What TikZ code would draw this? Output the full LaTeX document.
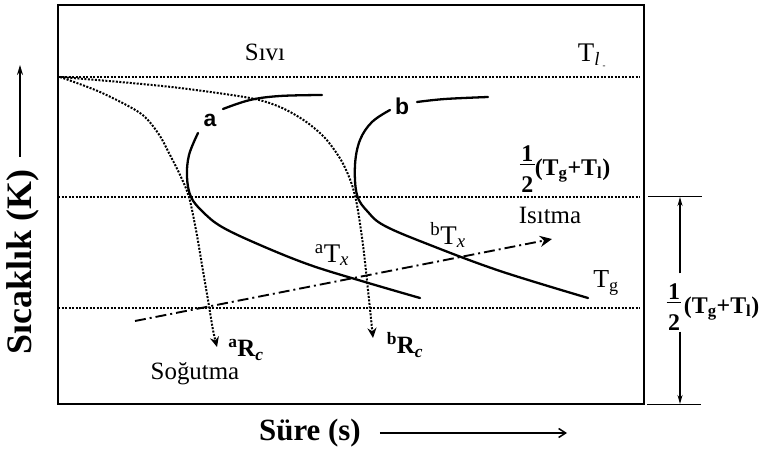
\documentclass[tikz,border=0pt]{standalone}
\usepackage{fontspec}
\setmainfont{Liberation Serif}
\setsansfont{Liberation Sans}
\usetikzlibrary{arrows.meta, positioning, calc}

% bold one half, stacked
\newcommand\halfstack{$\vcenter{\hbox{\vbox{\halign{\hfil##\hfil\cr
  \kern1.5bp 1\kern1.5bp\cr\noalign{\kern3bp\hrule height 1bp\kern11bp}2\cr}}}}$}

\begin{document}
\begin{tikzpicture}[
  x=1bp, y=-1bp,
  font=\fontsize{25}{28}\selectfont,
  framebox/.style ={draw, line width=1.8pt},
  hline/.style    ={line width=2bp, dash pattern=on 2bp off 1.5bp},
  route/.style    ={hline, -{Stealth[length=10bp, width=9bp]}},
  ttt/.style      ={line width=2.3pt, line cap=round},
  heat/.style     ={line width=1.9pt, dash pattern=on 11pt off 4pt on 2pt off 4pt,
                    -{Stealth[length=12bp, width=11bp]}},
  spanarrow/.style={line width=1.3pt, -{Stealth[length=9bp, width=5bp]}},
  axisarrow/.style={line width=1.5pt, -{Straight Barb[length=7bp, width=9bp]}},
  tickline/.style ={line width=1pt},
  lbl/.style      ={inner sep=1pt},
  tag/.style      ={font=\sffamily\bfseries\fontsize{23}{25}\selectfont, inner sep=1pt},
  axlabel/.style  ={font=\bfseries\fontsize{31}{33}\selectfont, inner sep=1pt}
]
\useasboundingbox (0,0) rectangle (764,455);

% frame and the three temperature levels
\coordinate (nw) at (58,5);
\coordinate (se) at (644,404);
\draw[framebox] (nw) rectangle (se);

\coordinate (liq-w) at (58,77);  \coordinate (liq-e) at (640,77);
\coordinate (mid-w) at (58,197); \coordinate (mid-e) at (640,197);
\coordinate (low-w) at (58,308); \coordinate (low-e) at (640,308);
\draw[hline] (liq-w) -- (liq-e);
\draw[hline] (mid-w) -- (mid-e);
\draw[hline] (low-w) -- (low-e);

% cooling routes
\draw[route] plot[smooth, tension=0.5] coordinates
  {(60,77) (100,92) (140,113) (158,133) (170,155) (181,177) (189,197)
   (196,230) (202,265) (208,300) (213,330) (217,347)};
\draw[route] plot[smooth, tension=0.5] coordinates
  {(60,77) (120,82) (180,88) (250,98) (280,107) (305,121) (325,138) (341,160)
   (351,182) (357,205) (363,245) (368,290) (373,338)};

% transformation curves a and b
\draw[ttt] plot[smooth, tension=0.6] coordinates {(223,109) (250,100) (280,96) (322,95)};
\draw[ttt] plot[smooth, tension=0.6] coordinates
  {(198,133) (189,155) (187,177) (191,197) (203,212) (222,227) (260,245) (310,265) (365,282) (420,298)};
\draw[ttt] plot[smooth, tension=0.6] coordinates {(417,102) (445,99) (488,97)};
\draw[ttt] plot[smooth, tension=0.6] coordinates
  {(390,110) (372,122) (360,140) (355,165) (357,195) (368,212) (385,226) (430,245) (500,271) (588,298)};

% heating route
\coordinate (heat-s) at (135,321);
\coordinate (heat-e) at (552,239);
\draw[heat] (heat-s) -- (heat-e);

% labels
\node[lbl] (liquid)  at (265,52)  {Sıvı};
\node[lbl, font=\fontsize{27}{30}\selectfont] (tliq) at (592,56)
  {T\textsubscript{\textit{l}\,\raisebox{-3bp}{\fontsize{9}{9}\selectfont -}}};
\node[lbl, font=\bfseries\fontsize{24}{28}\selectfont] (midlbl) at (565,169)
  {\halfstack(T\textsubscript{g}+T\textsubscript{l})};
\node[lbl] (heating) at (550,215) {Isıtma};
\node[lbl] (cooling) at (195,374) {Soğutma};
\node[lbl, font=\fontsize{26}{28}\selectfont] (tg)  at (606,283) {T\textsubscript{g}};
\node[lbl, font=\fontsize{27}{28}\selectfont] (atx) at (332,255) {\textsuperscript{a}T\textsubscript{\textit{x}}};
\node[lbl, font=\fontsize{27}{28}\selectfont] (btx) at (448,235) {\textsuperscript{b}T\textsubscript{\textit{x}}};
\node[lbl] (arc)     at (246,350) {\bfseries\textsuperscript{a}R\textsubscript{\textit{c}}};
\node[lbl] (brc)     at (405,345) {\bfseries\textsuperscript{b}R\textsubscript{\textit{c}}};
\node[tag] (taga)    at (210,120) {a};
\node[tag] (tagb)    at (402,106) {b};

% range on the right
\coordinate (top) at (680,197);
\coordinate (bot) at (680,404);
\coordinate (top-w) at (648,197); \coordinate (top-e) at (702,197);
\coordinate (bot-w) at (647,404); \coordinate (bot-e) at (701,404);
\draw[tickline] (top-w) -- (top-e);
\draw[tickline] (bot-w) -- (bot-e);
\node[lbl, font=\bfseries\fontsize{24}{28}\selectfont] (half) at (674,307) {\halfstack};
\node[lbl, font=\bfseries\fontsize{24}{28}\selectfont, base right=0pt of half] (sum)
  {(T\textsubscript{g}+T\textsubscript{l})};
\draw[spanarrow, shorten <=9bp] (half.north -| top) -- (top);
\draw[spanarrow] (half.south -| bot) -- (bot);

% axes
\node[axlabel] (time) at (310,433) {Süre (s)};
\coordinate (time-end) at (567,433);
\draw[axisarrow, shorten <=18bp] (time.east) -- (time-end);

\node[axlabel, rotate=90, font=\bfseries\fontsize{36}{38}\selectfont] (temp) at (23,262) {Sıcaklık (K)};
\coordinate (temp-end) at (20,65);
\draw[line width=1.5pt, -{Stealth[length=10bp, width=6bp]}, shorten <=12bp]
  (temp.east -| temp-end) -- (temp-end);

\end{tikzpicture}
\end{document}
